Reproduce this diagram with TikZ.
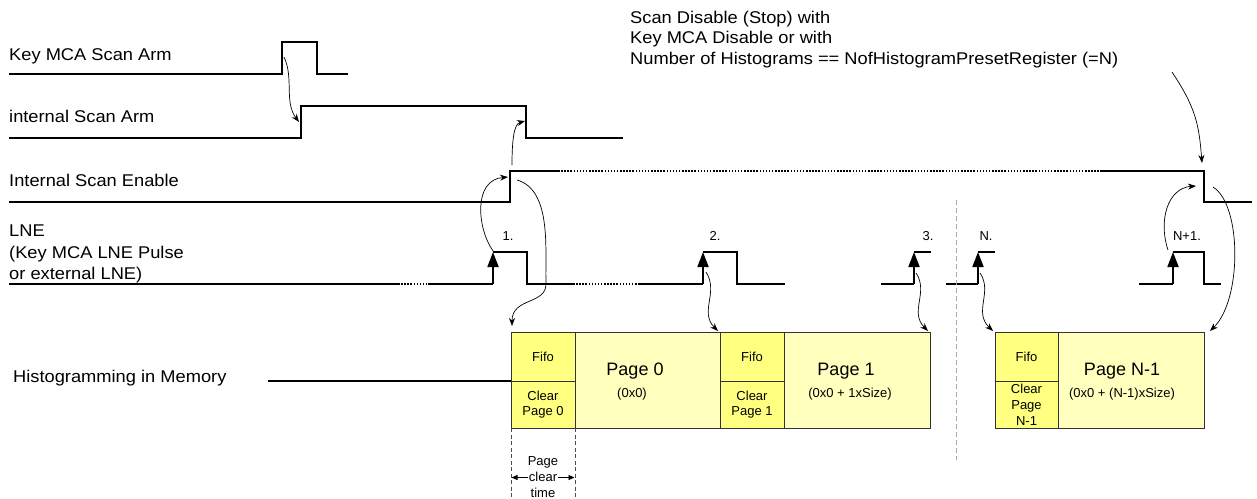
\documentclass[tikz,border=0pt]{standalone}
\usepackage{fontspec}
\setmainfont{Liberation Sans}
\newfontfamily\lblfont[FakeStretch=1.075]{Liberation Sans}
\usetikzlibrary{arrows.meta,calc}
\definecolor{fifoY}{RGB}{255,255,128}
\definecolor{pageY}{RGB}{255,255,190}
\definecolor{boxline}{RGB}{50,50,50}
\begin{document}
\begin{tikzpicture}[x=1pt,y=-1pt,
  sig/.style={line width=1.8pt, line join=miter},
  sigdot/.style={line width=1.5pt, dash pattern=on 1.5pt off 1.6pt},
  pulsetip/.style={-{Triangle[width=11pt,length=15pt]}},
  conn/.style={line width=0.7pt, -{Stealth[length=8pt,width=6pt]}},
  lbl/.style={font=\lblfont\fontsize{17}{20}\selectfont, anchor=base west, inner sep=0pt},
  num/.style={font=\fontsize{13}{15}\selectfont, anchor=base, inner sep=0pt},
  pgtitle/.style={font=\fontsize{18}{20}\selectfont, anchor=base, inner sep=0pt},
  pgaddr/.style={font=\fontsize{13}{15}\selectfont, anchor=base, inner sep=0pt},
  box/.style={draw=boxline, line width=0.8pt, anchor=north west, inner sep=0pt, outer sep=0pt,
    font=\fontsize{13}{15}\selectfont, align=center},
  fifobox/.style={box, fill=fifoY, minimum width=64pt, minimum height=49pt},
  clearbox/.style={box, fill=fifoY, minimum width=64pt, minimum height=47pt},
  pagebox/.style={box, fill=pageY, minimum height=96pt},
  divline/.style={gray!70, line width=0.9pt, dash pattern=on 5pt off 3pt},
  timeline/.style={gray!60!black, line width=0.7pt, dash pattern=on 4pt off 2.5pt},
  timearrow/.style={line width=0.7pt, -{Triangle[width=5pt,length=6pt]}}
]
\useasboundingbox (0,0) rectangle (1257,498);

% ---------- labels ----------
\node[lbl] (lKey) at (9,60) {Key MCA Scan Arm};
\node[lbl] (lISA) at (9,122) {internal Scan Arm};
\node[lbl] (lISE) at (9,186) {Internal Scan Enable};
\node[lbl] (lLNE1) at (9,236) {LNE};
\node[lbl] (lLNE2) at (9,258) {(Key MCA LNE Pulse};
\node[lbl] (lLNE3) at (9,279) {or external LNE)};
\node[lbl] (lHist) at (13,382) {Histogramming in Memory};
\node[lbl] (lStop1) at (630,23) {Scan Disable (Stop) with};
\node[lbl] (lStop2) at (630,43) {Key MCA Disable or with};
\node[lbl] (lStop3) at (630,64) {Number of Histograms == NofHistogramPresetRegister (=N)};

% ---------- Key MCA Scan Arm ----------
\draw[sig] (9,74) -- (282,74) -- (282,42) -- (317,42) -- (317,74) -- (348,74);
% ---------- internal Scan Arm ----------
\draw[sig] (9,138) -- (301,138) -- (301,106) -- (526,106) -- (526,138) -- (623,138);
% ---------- Internal Scan Enable ----------
\draw[sig] (9,202) -- (510,202) -- (510,171) -- (558,171);
\draw[sigdot] (558,171) -- (1100,171);
\draw[sig] (1100,171) -- (1204,171) -- (1204,202) -- (1252,202);

% ---------- LNE ----------
\draw[sig] (9,284) -- (398,284);
\draw[sigdot] (398,284) -- (428,284);
\draw[sig] (428,284) -- (493,284);
\draw[sig,pulsetip] (493,284) -- (493,252);
\draw[sig] (493,252) -- (527,252) -- (527,284) -- (573,284);
\draw[sigdot] (573,284) -- (638,284);
\draw[sig] (638,284) -- (703,284);
\draw[sig,pulsetip] (703,284) -- (703,252);
\draw[sig] (703,252) -- (737,252) -- (737,284) -- (785,284);
\draw[sig] (881,284) -- (914,284);
\draw[sig,pulsetip] (914,284) -- (914,252);
\draw[sig] (914,252) -- (931,252);
\draw[sig] (946,284) -- (978,284);
\draw[sig,pulsetip] (978,284) -- (978,252);
\draw[sig] (978,252) -- (995,252);
\draw[sig] (1139,284) -- (1173,284);
\draw[sig,pulsetip] (1173,284) -- (1173,252);
\draw[sig] (1173,252) -- (1204,252) -- (1204,284) -- (1221,284);

\node[num] (n1) at (508,240) {1.};
\node[num] (n2) at (715,240) {2.};
\node[num] (n3) at (928,240) {3.};
\node[num] (nN) at (986,240) {N.};
\node[num] (nN1) at (1187,240) {N+1.};

% ---------- divider ----------
\draw[divline] (956,200) -- (956,460);

% ---------- memory boxes ----------
\coordinate (histStart) at (268,381);
\node[fifobox] (f0) at (511,332) {Fifo};
\node[clearbox] (c0) at (511,381) {Clear\\Page 0};
\node[pagebox, minimum width=145pt] (p0) at (575,332) {};
\node[fifobox] (f1) at (720,332) {Fifo};
\node[clearbox] (c1) at (720,381) {Clear\\Page 1};
\node[pagebox, minimum width=146pt] (p1) at (784,332) {};
\node[fifobox, minimum width=63pt] (fN) at (995,332) {Fifo};
\node[clearbox, minimum width=63pt, font=\fontsize{13}{16}\selectfont] (cN) at (995,381) {Clear\\Page\\N-1};
\node[pagebox, minimum width=146pt] (pN) at (1058,332) {};

\node[pgtitle] (t0) at (635,375.5) {Page 0};
\node[pgaddr] (a0) at (632,397.5) {(0x0)};
\node[pgtitle] (t1) at (846,375.5) {Page 1};
\node[pgaddr] (a1) at (850,397.5) {(0x0 + 1xSize)};
\node[pgtitle] (tN) at (1122,375.5) {Page N-1};
\node[pgaddr] (aN) at (1122,397.5) {(0x0 + (N-1)xSize)};

\draw[line width=1.5pt] (histStart) -- (c0.north west);

% ---------- page clear time ----------
\draw[timeline] (c0.south west) -- ++(0,70);
\draw[timeline] (c0.south east) -- ++(0,70);
\node[num] (pc1) at (543,465) {Page};
\node[num] (pc2) at (543,481) {clear};
\node[num] (pc3) at (543,497) {time};
\coordinate (pcL) at (511.5,477.5);
\coordinate (pcR) at (574.5,477.5);
\draw[timearrow] (pc2.west |- pcL) ++(-1,0) -- (pcL);
\draw[timearrow] (pc2.east |- pcR) ++(1,0) -- (pcR);

% ---------- connectors ----------
\coordinate (kmsaRise) at (284,57);
\coordinate (isaRise) at (299,122);
\coordinate (iseRiseTop) at (512,165);
\coordinate (isaFall) at (525,121);
\coordinate (lne1) at (493,251);
\coordinate (iseRise) at (508,177);
\coordinate (iseRiseOut) at (517,180);
\coordinate (lne2) at (706,272);
\coordinate (lne3) at (916,273);
\coordinate (lneN) at (980,273);
\coordinate (lneN1) at (1168,250);
\coordinate (iseFall) at (1196,186);
\coordinate (iseFallOut) at (1213,187);
\coordinate (iseFallTop) at (1202,163);
\coordinate (stopText) at (1172,72);

\draw[conn] (kmsaRise) .. controls (294,78) and (284,102) .. (isaRise);
\draw[conn] (iseRiseTop) .. controls (512,140) and (514,124) .. (isaFall);
\draw[conn] (lne1) .. controls (477,228) and (473,180) .. (iseRise);
\draw[conn] (iseRiseOut) .. controls (552,190) and (545,250) .. (546,283)
   .. controls (547,305) and (512,297) .. ($(f0.north west)+(1,-6)$);
\draw[conn] (lne2) .. controls (719,292) and (699,312) .. ($(f1.north west)+(-2,-1)$);
\draw[conn] (lne3) .. controls (929,292) and (909,312) .. ($(p1.north east)+(-2,-1)$);
\draw[conn] (lneN) .. controls (993,292) and (973,312) .. ($(fN.north west)+(-2,-1)$);
\draw[conn] (lneN1) .. controls (1158,220) and (1168,188) .. (iseFall);
\draw[conn] (iseFallOut) .. controls (1242,205) and (1242,300) .. ($(pN.north east)+(6,-1)$);
\draw[conn] (stopText) .. controls (1196,108) and (1199,125) .. (iseFallTop);
\end{tikzpicture}
\end{document}
